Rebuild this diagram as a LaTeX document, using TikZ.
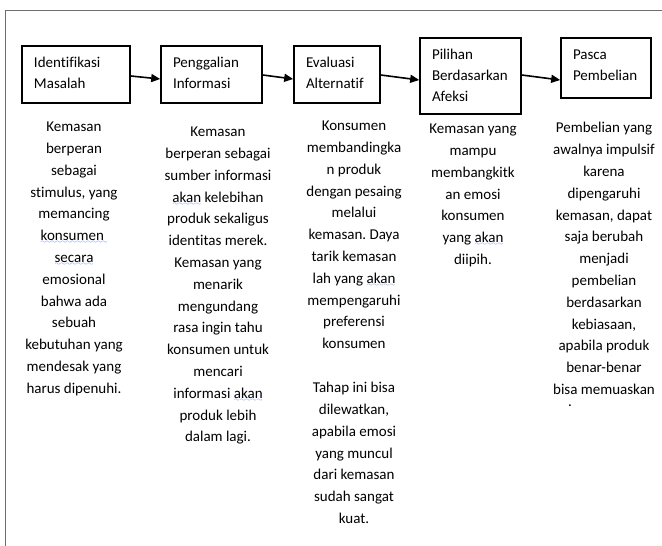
\documentclass[tikz,border=0pt]{standalone}
\usepackage{fontspec}
\setmainfont{Carlito}[Ligatures={NoCommon,NoContextual}]
\usetikzlibrary{arrows.meta,calc}
\definecolor{framegray}{RGB}{110,110,110}
\definecolor{sqblue}{RGB}{70,100,210}
\font\sqfont=lasy6
\newcommand\sq[1]{\setbox0\hbox{#1}\rlap{\color{sqblue}\lower3pt\hbox to\wd0{\xleaders\hbox{\sqfont\char58}\hfil}}\box0\relax}
\newcommand\dn[1]{\rule[-#1]{0pt}{#1}}
\hyphenpenalty=10000
\exhyphenpenalty=10000
\frenchspacing
\begin{document}
\begin{tikzpicture}[x=1pt,y=-1pt,
  stage/.style={draw=black, line width=1.6pt, align=left, inner xsep=12pt, inner ysep=0pt, font=\fontsize{15}{21}\selectfont},
  body/.style={align=center, inner sep=0pt, anchor=north, font=\fontsize{15}{21.8}\selectfont},
  arr/.style={line width=1.6pt, -{Triangle[length=9pt,width=8pt]}},
  frame/.style={draw=framegray, line width=1.4pt}]
\useasboundingbox (0,0) rectangle (662,546);
\coordinate (ftl) at (5.5,10.5);
\coordinate (ftr) at (662,10.5);
\coordinate (fbl) at (5.5,546);
\draw[frame] (ftr) -- (ftl) -- (fbl);

\node[stage, text width=84pt, minimum height=57pt] (b1) at (76,74.5) {Identifikasi\\Masalah\dn{3.5pt}};
\node[stage, text width=77pt, minimum height=57pt] (b2) at (211.5,74.5) {Penggalian\\Informasi\dn{3.5pt}};
\node[stage, text width=62pt, minimum height=57pt] (b3) at (337,74.5) {Evaluasi\\Alternatif\dn{3.5pt}};
\node[stage, text width=77pt, minimum height=76pt] (b4) at (470.5,76) {Pilihan\\Berdasarkan\\Afeksi\dn{0.5pt}};
\node[stage, text width=66pt, minimum height=60pt] (b5) at (606,68) {Pasca\\Pembelian\dn{6.5pt}};

\draw[arr] ($(b1.east)+(0,1.5)$) -- ($(b2.west)+(0,4.5)$);
\draw[arr] ($(b2.east)+(0,0.5)$) -- ($(b3.west)+(0,4.5)$);
\draw[arr] ($(b3.east)+(0,0.5)$) -- ($(b4.west)+(0,4)$);
\draw[arr] ($(b4.east)+(0,-1)$) -- ($(b5.west)+(0,12)$);

\node[body] (t1) at (74,116.2) {\strut Kemasan\\berperan\\sebagai\\stimulus, yang\\memancing\\\sq{konsumen\ }\\\sq{secara}\\emosional\\bahwa ada\\sebuah\\kebutuhan yang\\mendesak yang\\harus dipenuhi.};
\node[body] (t2) at (218,121.2) {\strut Kemasan\\berperan sebagai\\sumber informasi\\\sq{akan} kelebihan\\produk sekaligus\\identitas merek.\\Kemasan yang\\menarik\\mengundang\\rasa ingin tahu\\konsumen untuk\\mencari\\informasi \sq{akan}\\produk lebih\\dalam lagi.};
\node[body] (t3) at (354,115.2) {\strut Konsumen\\membandingka\\n produk\\dengan pesaing\\melalui\\kemasan. Daya\\tarik kemasan\\lah yang \sq{akan}\\mempengaruhi\\preferensi\\konsumen};
\node[body] (t3b) at (354,377.2) {\strut Tahap ini bisa\\dilewatkan,\\apabila emosi\\yang muncul\\dari kemasan\\sudah sangat\\kuat.};
\node[body] (t4) at (473,118.2) {\strut Kemasan yang\\mampu\\membangkitk\\an emosi\\konsumen\\yang \sq{akan}\\diipih.};
\node[body] (t5) at (604,117.5) {\strut Pembelian yang\\awalnya impulsif\\karena\\dipengaruhi\\kemasan, dapat\\saja berubah\\menjadi\\pembelian\\berdasarkan\\kebiasaan,\\apabila produk\\benar-benar\\bisa memuaskan};
\node[body, anchor=base] (t5dot) at (570,406) {.};
\end{tikzpicture}
\end{document}
